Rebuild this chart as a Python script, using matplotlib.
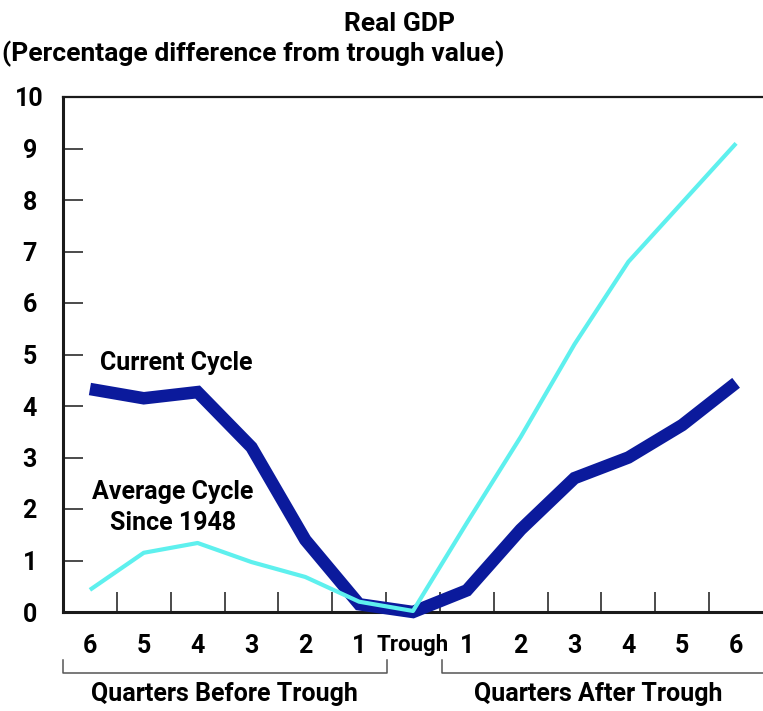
import matplotlib.pyplot as plt

plt.rcParams['font.family'] = ['Roboto', 'DejaVu Sans']
plt.rcParams['font.weight'] = 'bold'

W, H = 763, 711
DPI = 100

# quarters relative to trough (-6 .. 6)
quarters = [-6, -5, -4, -3, -2, -1, 0, 1, 2, 3, 4, 5, 6]
quarter_labels = ['6', '5', '4', '3', '2', '1', 'Trough', '1', '2', '3', '4', '5', '6']
current_cycle = [4.33, 4.15, 4.27, 3.2, 1.4, 0.15, 0.0, 0.42, 1.6, 2.6, 3.0, 3.63, 4.45]
average_cycle = [0.43, 1.15, 1.34, 0.97, 0.68, 0.2, 0.02, 1.73, 3.4, 5.2, 6.8, 7.95, 9.1]
y_ticks = [0, 1, 2, 3, 4, 5, 6, 7, 8, 9, 10]

dark = '#0b1a9c'
cyan = '#5ef0ee'
ink = '#1a1a1a'


def px(x, y):
    # pixel position in the output image -> figure fraction
    return x / W, 1 - y / H


fig = plt.figure(figsize=(W / DPI, H / DPI), dpi=DPI)
ax = fig.add_axes([63 / W, 1 - 612 / H, 1 - 63 / W, (612 - 97) / H])

ax.plot(quarters, current_cycle, color=dark, lw=9, solid_capstyle='butt',
        solid_joinstyle='miter', clip_on=False, zorder=3)
ax.plot(quarters, average_cycle, color=cyan, lw=3.0, solid_capstyle='butt',
        clip_on=False, zorder=4)

ax.set_xlim(-6.5, 6.5)
ax.set_ylim(0, 10)

# tick marks sit between quarters, labels sit on the quarters
ax.set_xticks([q + 0.5 for q in quarters[:-1]])
ax.set_xticklabels([])
ax.set_xticks(quarters, minor=True)
ax.set_xticklabels(quarter_labels, minor=True)
ax.tick_params(axis='x', which='major', direction='in', length=14.4, width=1.1, color=ink)
ax.tick_params(axis='x', which='minor', length=0, pad=16, labelsize=18)
for lab in ax.get_xticklabels(minor=True):
    if lab.get_text() == 'Trough':
        lab.set_fontsize(16)

ax.set_yticks(y_ticks)
ax.set_yticklabels([str(v) for v in y_ticks])
ax.tick_params(axis='y', direction='in', length=14.4, width=1.1, color=ink, pad=24, labelsize=18)
for lab in ax.get_yticklabels():
    lab.set_horizontalalignment('center')

ax.spines['right'].set_visible(False)
ax.spines['left'].set_linewidth(2.2)
ax.spines['bottom'].set_linewidth(2.2)
ax.spines['top'].set_linewidth(1.6)
for s in ('left', 'bottom', 'top'):
    ax.spines[s].set_color(ink)

# titles
fig.text(*px(399, 24), 'Real GDP', ha='center', va='center', fontsize=19)
fig.text(*px(2, 54), '(Percentage difference from trough value)', ha='left', va='center', fontsize=19)

# series labels
fig.text(*px(100, 363), 'Current Cycle', ha='left', va='center', fontsize=18)
fig.text(*px(173, 492), 'Average Cycle', ha='center', va='center', fontsize=18)
fig.text(*px(173, 523), 'Since 1948', ha='center', va='center', fontsize=18)

# brackets under the axis
bracket = dict(color='#555555', lw=1.1)
x0, y0 = px(63, 660)
x1, y1 = px(387, 673)
fig.add_artist(plt.Line2D([x0, x0, x1, x1], [y0, y1, y1, y0], **bracket))
x2, _ = px(442, 660)
fig.add_artist(plt.Line2D([x2, x2, 1.0], [y0, y1, y1], **bracket))
fig.text(*px(224, 694), 'Quarters Before Trough', ha='center', va='center', fontsize=18)
fig.text(*px(598, 694), 'Quarters After Trough', ha='center', va='center', fontsize=18)

fig.savefig('out.png', dpi=DPI)
